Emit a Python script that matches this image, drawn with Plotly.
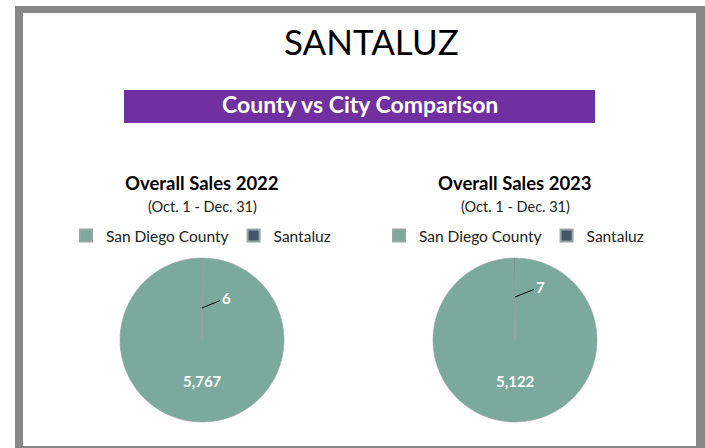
import plotly.graph_objects as go

# Sales data, Oct. 1 - Dec. 31
categories = ["San Diego County", "Santaluz"]
sales_2022 = [5767, 6]
sales_2023 = [5122, 7]
chart_titles = ["Overall Sales 2022", "Overall Sales 2023"]
period_label = "(Oct. 1 - Dec. 31)"

COUNTY_COLOR = "#7BA99C"
CITY_COLOR = "#44546A"
FONT = "Lato, 'Open Sans', sans-serif"

W, H = 705, 448


def px_x(x):
    return x / W


def px_y(y):
    return 1 - y / H


fig = go.Figure()

pie_boxes = [
    (120, 284, 258, 422),
    (433, 597, 258, 422),
]
series = [sales_2022, sales_2023]
legend_ids = ["legend", "legend2"]

for i, (values, (x0, x1, y0, y1), lg) in enumerate(zip(series, pie_boxes, legend_ids)):
    # pie legends share items by label, so each chart gets its own label keys
    labels = [c + "\u200b" * i for c in categories]
    fig.add_trace(go.Pie(
        labels=labels,
        values=values,
        sort=False,
        direction="clockwise",
        rotation=0,
        marker=dict(colors=[COUNTY_COLOR, CITY_COLOR],
                    line=dict(color="#9AA5A0", width=0.6)),
        textinfo="none",
        hoverinfo="label+value",
        domain=dict(x=[px_x(x0), px_x(x1)], y=[px_y(y1), px_y(y0)]),
        legend=lg,
        showlegend=True,
    ))

shapes = [
    # gray frame
    dict(type="rect", xref="paper", yref="paper",
         x0=px_x(15), x1=1, y0=0, y1=px_y(6),
         fillcolor="#878787", line=dict(width=0), layer="below"),
    dict(type="rect", xref="paper", yref="paper",
         x0=px_x(23), x1=px_x(696), y0=px_y(446), y1=px_y(13),
         fillcolor="white", line=dict(width=0), layer="below"),
    # purple banner
    dict(type="rect", xref="paper", yref="paper",
         x0=px_x(124), x1=px_x(595), y0=px_y(123), y1=px_y(90),
         fillcolor="#7030A0", line=dict(width=0), layer="below"),
]

annotations = [
    dict(text="SANTALUZ", x=px_x(371), y=px_y(41), xref="paper", yref="paper",
         showarrow=False, font=dict(family=FONT, size=35, color="black"),
         xanchor="center", yanchor="middle"),
    dict(text="<b>County vs City Comparison</b>", x=px_x(360), y=px_y(104),
         xref="paper", yref="paper", showarrow=False,
         font=dict(family=FONT, size=23, color="white"),
         xanchor="center", yanchor="middle"),
]

centers = [202, 515]
# leader line tip (pixel y) and text offset for the small slice label
small_label_tips = [(202, 308, 24, -10), (515, 297, 25, -10)]
for cx, title, values, (tx, ty, ox, oy) in zip(centers, chart_titles, series,
                                                small_label_tips):
    annotations += [
        dict(text=f"<b>{title}</b>", x=px_x(cx), y=px_y(183), xref="paper",
             yref="paper", showarrow=False,
             font=dict(family=FONT, size=18.5, color="black"),
             xanchor="center", yanchor="middle"),
        dict(text=period_label, x=px_x(cx), y=px_y(206), xref="paper",
             yref="paper", showarrow=False,
             font=dict(family=FONT, size=14.5, color="#222222"),
             xanchor="center", yanchor="middle"),
        # value of the large slice
        dict(text=f"<b>{values[0]:,}</b>", x=px_x(cx), y=px_y(381),
             xref="paper", yref="paper", showarrow=False,
             font=dict(family=FONT, size=15, color="white"),
             xanchor="center", yanchor="middle"),
        # value of the small slice with a leader line
        dict(text=f"<b>{values[1]:,}</b>", x=px_x(tx), y=px_y(ty),
             xref="paper", yref="paper", showarrow=True, arrowhead=0,
             arrowwidth=1, arrowcolor="black", ax=ox, ay=oy,
             font=dict(family=FONT, size=15, color="white"),
             xanchor="center", yanchor="middle", standoff=0),
    ]

legend_style = dict(
    orientation="h",
    xanchor="center", yanchor="middle",
    yref="paper", xref="paper",
    font=dict(family=FONT, size=15.5, color="#222222"),
    bgcolor="rgba(0,0,0,0)",
    itemsizing="constant",
    traceorder="normal",
)

fig.update_layout(
    width=W, height=H,
    margin=dict(l=0, r=0, t=0, b=0),
    paper_bgcolor="white",
    plot_bgcolor="white",
    shapes=shapes,
    annotations=annotations,
    legend=dict(x=px_x(201), y=px_y(236), **legend_style),
    legend2=dict(x=px_x(514), y=px_y(236), **legend_style),
)

fig.write_html("out.html")
